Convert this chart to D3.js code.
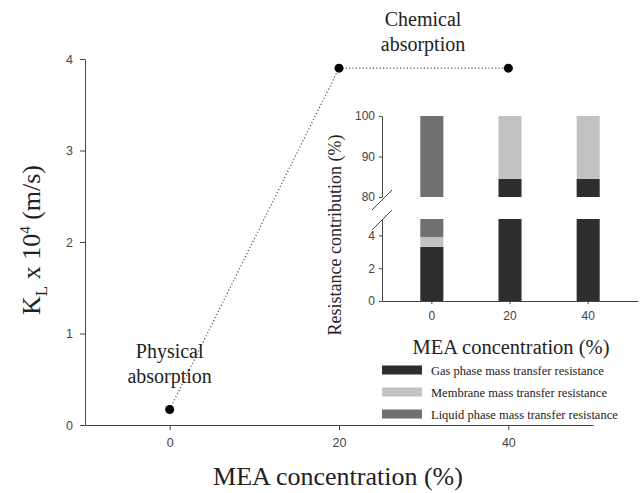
<!DOCTYPE html>
<html>
<head>
<meta charset="utf-8">
<script src="https://cdn.jsdelivr.net/npm/d3@7"></script>
<style>
  body { margin: 0; background: #fff; }
  .domain, .tick line { stroke: #444; }
</style>
</head>
<body>
<div id="chart"></div>
<script>
// main plot: KL vs MEA concentration
let mea = [0, 20, 40];
let kl = [0.17, 3.9, 3.9];

// inset: resistance contribution (%) per concentration
let insetCats = ["0", "20", "40"];
let gasRes = [3.3, 84.5, 84.5];
let membraneRes = [0.6, 15.5, 15.5];
let liquidRes = [96.1, 0, 0];
let seriesNames = ["Gas phase mass transfer resistance", "Membrane mass transfer resistance", "Liquid phase mass transfer resistance"];
let seriesColors = ["#2e2e2e", "#c2c2c2", "#707070"];

let width = 643, height = 493;
let SERIF = "'Liberation Serif', 'Times New Roman', serif";
let SANS = "'Liberation Sans', Arial, sans-serif";

let svg = d3.select("#chart")
  .append("svg")
  .attr("width", width)
  .attr("height", height);

function styleTicks(g, size) {
  g.selectAll("text")
    .style("font-family", SANS)
    .style("font-size", size)
    .style("fill", "#444");
}

function serifText(sel, size) {
  return sel.style("font-family", SERIF).style("font-size", size).style("fill", "#222");
}

// ---- main chart ----
let x = d3.scaleLinear().domain([-10, 50]).range([85, 593]);
let y = d3.scaleLinear().domain([0, 4]).range([425, 59]);

svg.append("g")
  .attr("transform", "translate(0,425)")
  .call(d3.axisBottom(x).tickValues([0, 20, 40]).tickFormat(d3.format("d")).tickSize(5).tickSizeOuter(0).tickPadding(8))
  .call(styleTicks, "12.5px");

svg.append("g")
  .attr("transform", "translate(85,0)")
  .call(d3.axisLeft(y).tickValues([0, 1, 2, 3, 4]).tickFormat(d3.format("d")).tickSize(5).tickSizeOuter(0).tickPadding(7))
  .call(styleTicks, "12.5px");

let pts = mea.map(function(d, i) { return [d, kl[i]]; });

svg.append("path")
  .datum(pts)
  .attr("fill", "none")
  .attr("stroke", "#555")
  .attr("stroke-width", 1.2)
  .attr("stroke-dasharray", "1.2,2.2")
  .attr("d", d3.line().x(function(d) { return x(d[0]); }).y(function(d) { return y(d[1]); }));

svg.selectAll("circle.pt")
  .data(pts)
  .enter()
  .append("circle")
  .attr("class", "pt")
  .attr("cx", function(d) { return x(d[0]); })
  .attr("cy", function(d) { return y(d[1]); })
  .attr("r", 4.5)
  .attr("fill", "#000");

// axis titles
svg.append("text")
  .attr("x", 338).attr("y", 485)
  .style("text-anchor", "middle")
  .call(serifText, "26px")
  .text("MEA concentration (%)");

let ylab = svg.append("text")
  .attr("transform", "translate(40,240) rotate(-90)")
  .style("text-anchor", "middle")
  .call(serifText, "26px");
ylab.append("tspan").text("K");
ylab.append("tspan").attr("dy", 7).style("font-size", "17px").text("L");
ylab.append("tspan").attr("dy", -7).text(" x 10");
ylab.append("tspan").attr("dy", -10).style("font-size", "15px").text("4");
ylab.append("tspan").attr("dy", 10).text(" (m/s)");

// annotations
function annotate(cx, lines, y0) {
  lines.forEach(function(t, i) {
    svg.append("text")
      .attr("x", cx).attr("y", y0 + i * 25)
      .style("text-anchor", "middle")
      .call(serifText, "20px")
      .text(t);
  });
}
annotate(x(0), ["Physical", "absorption"], 358);
annotate(423, ["Chemical", "absorption"], 26);

// ---- inset ----
let xi = d3.scaleBand().domain(insetCats).range([382, 638]).paddingInner(0.705).paddingOuter(0.49);
let yLow = d3.scaleLinear().domain([0, 5]).range([301, 219]);
let yHigh = d3.scaleLinear().domain([80, 100]).range([197, 116]);

let table = insetCats.map(function(c, i) {
  return { cat: c, gas: gasRes[i], membrane: membraneRes[i], liquid: liquidRes[i] };
});
let stack = d3.stack().keys(["gas", "membrane", "liquid"])(table);

let panels = [yLow, yHigh];
let inset = svg.append("g");

stack.forEach(function(layer, li) {
  layer.forEach(function(seg) {
    panels.forEach(function(sc) {
      let dom = sc.domain();
      let lo = Math.max(seg[0], dom[0]);
      let hi = Math.min(seg[1], dom[1]);
      if (hi <= lo) return;
      inset.append("rect")
        .attr("x", xi(seg.data.cat))
        .attr("width", xi.bandwidth())
        .attr("y", sc(hi))
        .attr("height", sc(lo) - sc(hi))
        .attr("fill", seriesColors[li]);
    });
  });
});

inset.append("g")
  .attr("transform", "translate(0,301)")
  .call(d3.axisBottom(xi).tickSize(3).tickSizeOuter(0).tickPadding(7))
  .call(styleTicks, "12px");

inset.append("g")
  .attr("transform", "translate(382,0)")
  .call(d3.axisLeft(yLow).tickValues([0, 2, 4]).tickFormat(d3.format("d")).tickSize(3).tickSizeOuter(0).tickPadding(4))
  .call(styleTicks, "12px");

inset.append("g")
  .attr("transform", "translate(382,0)")
  .call(d3.axisLeft(yHigh).tickValues([80, 90, 100]).tickFormat(d3.format("d")).tickSize(3).tickSizeOuter(0).tickPadding(4))
  .call(styleTicks, "12px");

// break marks
[yHigh(80) + 3, yLow(5) + 1].forEach(function(cy) {
  inset.append("line")
    .attr("x1", 372).attr("y1", cy + 10)
    .attr("x2", 392).attr("y2", cy - 10)
    .attr("stroke", "#444");
});

inset.append("text")
  .attr("transform", "translate(341,235) rotate(-90)")
  .style("text-anchor", "middle")
  .call(serifText, "18px")
  .text("Resistance contribution (%)");

inset.append("text")
  .attr("x", 511).attr("y", 354)
  .style("text-anchor", "middle")
  .call(serifText, "20.5px")
  .text("MEA concentration (%)");

// legend
let legend = inset.selectAll("g.leg")
  .data(seriesNames)
  .enter()
  .append("g")
  .attr("class", "leg")
  .attr("transform", function(d, i) { return "translate(382," + (370 + i * 22) + ")"; });

legend.append("rect")
  .attr("x", 0).attr("y", -4.5)
  .attr("width", 40).attr("height", 9)
  .attr("fill", function(d, i) { return seriesColors[i]; });

legend.append("text")
  .attr("x", 49).attr("y", 4.5)
  .call(serifText, "12.5px")
  .text(function(d) { return d; });
</script>
</body>
</html>
